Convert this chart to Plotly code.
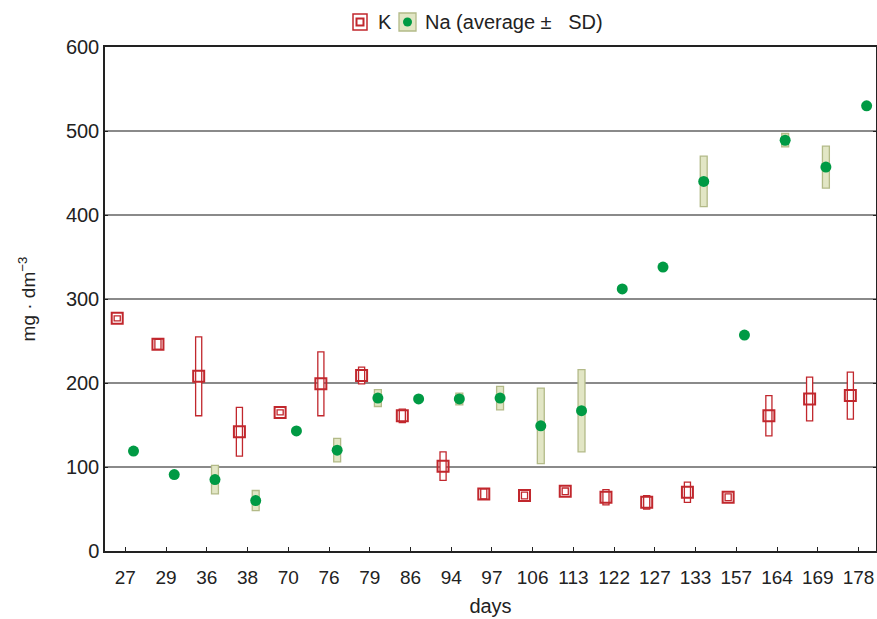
import plotly.graph_objects as go

days = ['27', '29', '36', '38', '70', '76', '79', '86', '94', '97',
        '106', '113', '122', '127', '133', '157', '164', '169', '178']

k_mean = [277, 246, 208, 142, 165, 199, 209, 161, 101, 68,
          66, 71, 64, 58, 70, 64, 161, 181, 185]
k_sd = [3, 6, 47, 29, 3, 38, 10, 8, 17, 6,
        4, 4, 9, 8, 12, 4, 24, 26, 28]

na_mean = [119, 91, 85, 60, 143, 120, 182, 181, 181, 182,
           149, 167, 312, 338, 440, 257, 489, 457, 530]
na_sd = [None, None, 17, 12, None, 14, 10, None, 7, 14,
         45, 49, None, None, 30, None, 8, 25, None]

VERMELHO = '#c1272d'
VERDE = '#009a44'
OLIVA = '#e2e6c5'
OLIVA_BORDA = '#b3ba88'
FONTE = 'Arial, Liberation Sans, sans-serif'

LARG, ALT = 877, 619

# area do grafico em pixels
L, R, T, B = 105, 876, 47, 551


def px(x):
    return (x - L) / (R - L)


def py(y):
    return (B - y) / (B - T)


pos = list(range(len(days)))
pos_k = [p - 0.2 for p in pos]
pos_na = [p + 0.2 for p in pos]


def base(m, s):
    return [None if d is None else v - d for v, d in zip(m, s)]


def altura(s):
    return [None if d is None else 2 * d for d in s]


fig = go.Figure()

fig.add_trace(go.Bar(
    x=pos_k,
    base=base(k_mean, k_sd),
    y=altura(k_sd),
    width=0.15,
    marker=dict(color='white', line=dict(color=VERMELHO, width=1.3)),
    showlegend=False,
    hoverinfo='skip'
))

fig.add_trace(go.Bar(
    x=pos_na,
    base=base(na_mean, na_sd),
    y=altura(na_sd),
    width=0.17,
    marker=dict(color=OLIVA, line=dict(color=OLIVA_BORDA, width=1.3)),
    showlegend=False,
    hoverinfo='skip'
))

fig.add_trace(go.Scatter(
    x=pos_k,
    y=k_mean,
    mode='markers',
    name='K',
    marker=dict(symbol='square-open', size=11, color=VERMELHO,
                line=dict(width=2, color=VERMELHO)),
    showlegend=False
))

fig.add_trace(go.Scatter(
    x=pos_na,
    y=na_mean,
    mode='markers',
    name='Na',
    marker=dict(symbol='circle', size=11, color=VERDE),
    showlegend=False
))

# legenda desenhada a mao (icones iguais ao original)
shapes = [
    dict(type='rect', xref='paper', yref='paper',
         x0=px(353), x1=px(367), y0=py(30), y1=py(14),
         line=dict(color=VERMELHO, width=1.5), fillcolor='white'),
    dict(type='rect', xref='paper', yref='paper',
         x0=px(356.5), x1=px(363.5), y0=py(25.5), y1=py(18.5),
         line=dict(color=VERMELHO, width=2), fillcolor='white'),
    dict(type='rect', xref='paper', yref='paper',
         x0=px(399), x1=px(416), y0=py(31), y1=py(13),
         line=dict(color=OLIVA_BORDA, width=1.3), fillcolor=OLIVA),
    dict(type='circle', xref='paper', yref='paper',
         x0=px(403), x1=px(412), y0=py(26.5), y1=py(17.5),
         line=dict(width=0), fillcolor=VERDE),
]

annotations = [
    dict(text='K', xref='paper', yref='paper', x=px(376), y=py(22),
         xanchor='left', yanchor='middle', showarrow=False,
         font=dict(size=20, color='#222')),
    dict(text='Na (average ±\u00a0\u00a0 SD)', xref='paper', yref='paper',
         x=px(423), y=py(22), xanchor='left', yanchor='middle',
         showarrow=False, font=dict(size=20, color='#222')),
]

fig.update_layout(
    width=LARG,
    height=ALT,
    margin=dict(l=L, r=LARG - R, t=T, b=ALT - B, autoexpand=False),
    paper_bgcolor='white',
    plot_bgcolor='white',
    barmode='overlay',
    font=dict(family=FONTE, size=20, color='#222'),
    shapes=shapes,
    annotations=annotations,
    showlegend=False
)

fig.update_xaxes(
    automargin=False,
    range=[-0.5, 18.43],
    tickmode='array',
    tickvals=pos,
    ticktext=days,
    ticks='inside',
    ticklen=4,
    tickcolor='#222',
    tickfont=dict(size=19),
    ticklabelstandoff=8,
    showgrid=False,
    zeroline=False,
    showline=True,
    linecolor='#222',
    linewidth=1.5,
    mirror=True,
    title=dict(text='days', font=dict(size=20), standoff=12)
)

fig.update_yaxes(
    automargin=False,
    range=[0, 600],
    dtick=100,
    ticks='inside',
    ticklen=3,
    tickcolor='#222',
    tickfont=dict(size=20),
    showgrid=True,
    gridcolor='#8a8a8a',
    gridwidth=1.5,
    zeroline=False,
    showline=True,
    linecolor='#222',
    linewidth=1.5,
    mirror='ticks',
    title=dict(text='mg · dm<sup>−3</sup>', font=dict(size=19), standoff=25)
)

# tira a margem padrao do body para a figura ocupar a janela toda
fig.write_html('out.html',
               config={'displayModeBar': False},
               post_script="document.body.style.margin='0';"
                           "document.body.style.overflow='hidden';")
